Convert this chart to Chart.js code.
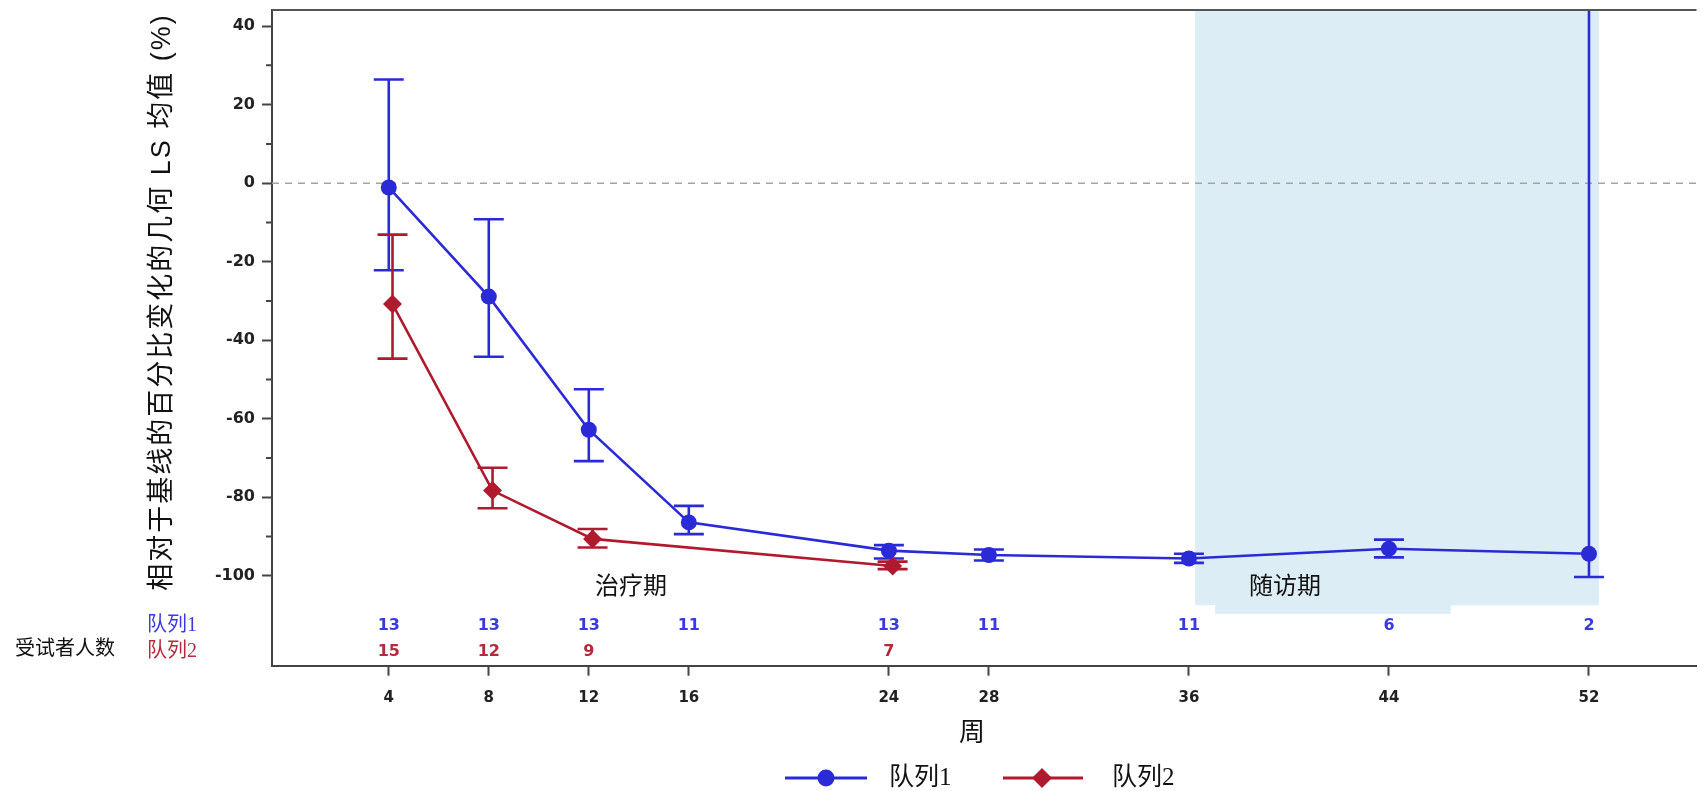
<!DOCTYPE html>
<html>
<head>
<meta charset="utf-8">
<script src="https://cdn.jsdelivr.net/npm/chart.js@4.4.0/dist/chart.umd.min.js"></script>
<style>
  html, body { margin: 0; padding: 0; background: #fff; }
  #wrap { position: relative; width: 1706px; height: 791px; }
</style>
</head>
<body>
<div id="wrap"><canvas id="chart"></canvas></div>
<script>
// tick labels
const weekTicks = [4, 8, 12, 16, 24, 28, 36, 44, 52];
const yTicks = [-100, -90, -80, -70, -60, -50, -40, -30, -20, -10, 0, 10, 20, 30, 40];

// cohort 1
const weeks1 = [4, 8, 12, 16, 24, 28, 36, 44, 52];
const mean1 = [-1.1, -28.9, -62.8, -86.4, -93.6, -94.7, -95.6, -93.1, -94.4];
const lower1 = [-22.2, -44.2, -70.8, -89.4, -95.6, -96.1, -96.7, -95.3, -100.3];
const upper1 = [26.4, -9.2, -52.5, -82.2, -92.2, -93.3, -94.4, -90.8, 150];
const count1 = [13, 13, 13, 11, 13, 11, 11, 6, 2];

// cohort 2
const weeks2 = [4, 8, 12, 24];
const mean2 = [-30.8, -78.3, -90.6, -97.5];
const lower2 = [-44.7, -82.8, -92.8, -98.3];
const upper2 = [-13.1, -72.5, -88.1, -96.4];
const count2 = [15, 12, 9, 7];

const seriesNames = ['队列1', '队列2'];

// follow-up period shading (weeks / y value)
const followUpStart = 36.25;
const followUpEnd = 52.4;
const followUpBottom = -107.5;

const BLUE = '#2a2ad6';
const RED = '#b01a2f';
const cluster = 0.15; // cohort 2 drawn slightly right of the tick

function toPoints(weeks, values, shift) {
  return weeks.map((w, i) => ({ x: w + shift, y: values[i] }));
}

const isMajor = (v) => v % 20 === 0;

// shaded band + dashed reference line at 0
const backdrop = {
  id: 'backdrop',
  beforeDatasetsDraw(chart) {
    const { ctx, chartArea: area, scales: { x, y } } = chart;
    ctx.save();
    ctx.fillStyle = '#ddedf5';
    const left = x.getPixelForValue(followUpStart);
    const right = x.getPixelForValue(followUpEnd);
    const bottom = y.getPixelForValue(followUpBottom);
    ctx.fillRect(left, area.top, right - left, bottom - area.top);
    // the label sits on a slightly deeper patch of the band
    const l2 = x.getPixelForValue(37.05), r2 = x.getPixelForValue(46.47);
    ctx.fillRect(l2, bottom - 1, r2 - l2, y.getPixelForValue(-109.7) - bottom + 1);

    const y0 = y.getPixelForValue(0);
    ctx.strokeStyle = '#a3a3a3';
    ctx.lineWidth = 1.5;
    ctx.setLineDash([7, 6]);
    ctx.beginPath();
    ctx.moveTo(area.left, y0);
    ctx.lineTo(area.right, y0);
    ctx.stroke();
    ctx.restore();
  }
};

// error bars from each dataset's errLow / errHigh
const errorBars = {
  id: 'errorBars',
  beforeDatasetsDraw(chart) {
    const { ctx, chartArea: area, scales: { y } } = chart;
    ctx.save();
    ctx.beginPath();
    ctx.rect(area.left, area.top, area.right - area.left, area.bottom - area.top);
    ctx.clip();
    chart.data.datasets.forEach((ds, i) => {
      const meta = chart.getDatasetMeta(i);
      ctx.strokeStyle = ds.borderColor;
      ctx.lineWidth = 2.6;
      meta.data.forEach((pt, j) => {
        const yl = y.getPixelForValue(ds.errLow[j]);
        const yh = y.getPixelForValue(ds.errHigh[j]);
        ctx.beginPath();
        ctx.moveTo(pt.x, yl);
        ctx.lineTo(pt.x, yh);
        ctx.moveTo(pt.x - 15, yl);
        ctx.lineTo(pt.x + 15, yl);
        ctx.moveTo(pt.x - 15, yh);
        ctx.lineTo(pt.x + 15, yh);
        ctx.stroke();
      });
    });
    ctx.restore();
  }
};

const CJK = '"Noto Sans CJK SC"';

// text around the plot: counts, period labels, titles, legend
const annotations = {
  id: 'annotations',
  afterDraw(chart) {
    const { ctx, chartArea: area, scales: { x, y } } = chart;
    ctx.save();

    // top frame line
    ctx.strokeStyle = '#555';
    ctx.lineWidth = 2;
    ctx.beginPath();
    ctx.moveTo(area.left, area.top);
    ctx.lineTo(area.right, area.top);
    ctx.stroke();

    // short minor ticks on the y axis
    ctx.strokeStyle = '#444';
    ctx.beginPath();
    yTicks.filter((v) => !isMajor(v)).forEach((v) => {
      const py = y.getPixelForValue(v);
      ctx.moveTo(area.left - 6, py);
      ctx.lineTo(area.left, py);
    });
    ctx.stroke();

    ctx.textAlign = 'center';
    ctx.textBaseline = 'middle';

    // subjects per visit
    ctx.font = '600 16px "DejaVu Sans"';
    ctx.fillStyle = '#3a3ae0';
    weeks1.forEach((w, i) => ctx.fillText(String(count1[i]), x.getPixelForValue(w), area.bottom - 40));
    ctx.fillStyle = '#b42a3d';
    weeks2.forEach((w, i) => ctx.fillText(String(count2[i]), x.getPixelForValue(w), area.bottom - 14));

    ctx.font = '20px "Liberation Serif", ' + CJK;
    ctx.fillStyle = '#3a3ae0';
    ctx.fillText(seriesNames[0], 172, area.bottom - 40);
    ctx.fillStyle = '#b42a3d';
    ctx.fillText(seriesNames[1], 172, area.bottom - 14);
    ctx.fillStyle = '#111';
    ctx.fillText('受试者人数', 65, area.bottom - 16);

    // period labels
    ctx.font = '24px "Liberation Serif", ' + CJK;
    ctx.fillText('治疗期', 631, y.getPixelForValue(-103.1));
    ctx.fillText('随访期', 1285, y.getPixelForValue(-103.1));

    // axis titles
    ctx.font = '26px "Liberation Serif", ' + CJK;
    ctx.fillText('周', 972, 734);
    ctx.save();
    ctx.translate(163, 302);
    ctx.rotate(-Math.PI / 2);
    ctx.font = '27px "Liberation Sans", ' + CJK;
    ctx.letterSpacing = '2px';
    ctx.fillText('相对于基线的百分比变化的几何 LS 均值 (%)', 0, 0);
    ctx.letterSpacing = '0px';
    ctx.restore();

    // legend
    const ly = 778;
    ctx.lineWidth = 3;
    ctx.strokeStyle = BLUE;
    ctx.beginPath(); ctx.moveTo(785, ly); ctx.lineTo(867, ly); ctx.stroke();
    ctx.fillStyle = BLUE;
    ctx.beginPath(); ctx.arc(826, ly, 8.5, 0, Math.PI * 2); ctx.fill();
    ctx.strokeStyle = RED;
    ctx.beginPath(); ctx.moveTo(1003, ly); ctx.lineTo(1083, ly); ctx.stroke();
    ctx.fillStyle = RED;
    ctx.beginPath();
    ctx.moveTo(1042, ly - 10); ctx.lineTo(1052, ly); ctx.lineTo(1042, ly + 10); ctx.lineTo(1032, ly);
    ctx.closePath(); ctx.fill();
    ctx.fillStyle = '#111';
    ctx.textAlign = 'left';
    ctx.font = '25px "Liberation Serif", ' + CJK;
    ctx.fillText(seriesNames[0], 889, ly);
    ctx.fillText(seriesNames[1], 1112, ly);

    ctx.restore();
  }
};

const ctx = document.getElementById('chart').getContext('2d');
new Chart(ctx, {
  type: 'line',
  data: {
    datasets: [
      {
        label: seriesNames[0],
        data: toPoints(weeks1, mean1, 0),
        errLow: lower1,
        errHigh: upper1,
        borderColor: BLUE,
        backgroundColor: BLUE,
        borderWidth: 2.6,
        pointStyle: 'circle',
        pointRadius: 8,
        pointBorderWidth: 0,
        tension: 0
      },
      {
        label: seriesNames[1],
        data: toPoints(weeks2, mean2, cluster),
        errLow: lower2,
        errHigh: upper2,
        borderColor: RED,
        backgroundColor: RED,
        borderWidth: 2.6,
        pointStyle: 'rectRot',
        pointRadius: 9.5,
        pointBorderWidth: 0,
        tension: 0
      }
    ]
  },
  options: {
    responsive: true,
    maintainAspectRatio: false,
    animation: false,
    layout: { padding: { left: 0, right: 0, top: 10, bottom: 0 } },
    plugins: {
      legend: { display: false },
      tooltip: { enabled: false }
    },
    scales: {
      x: {
        type: 'linear',
        min: -0.67,
        max: 56.3,
        afterBuildTicks: (scale) => { scale.ticks = weekTicks.map((v) => ({ value: v })); },
        afterFit: (scale) => { scale.height = 125.3; scale.paddingLeft = 0; scale.paddingRight = 0; },
        grid: { drawOnChartArea: false, tickLength: 10, tickColor: '#444', tickWidth: 2 },
        border: { color: '#444', width: 2 },
        ticks: {
          padding: 13,
          color: '#222',
          maxRotation: 0,
          autoSkip: false,
          font: { family: 'DejaVu Sans', weight: 'bold', size: 15 }
        }
      },
      y: {
        min: -122.9,
        max: 44.1,
        afterBuildTicks: (scale) => { scale.ticks = yTicks.map((v) => ({ value: v })); },
        afterFit: (scale) => { scale.width = 272; scale.paddingTop = 0; scale.paddingBottom = 0; },
        grid: {
          drawOnChartArea: false,
          tickLength: 10,
          tickWidth: 2,
          tickColor: (c) => (c.tick && isMajor(c.tick.value) ? '#444' : 'rgba(0,0,0,0)')
        },
        border: { color: '#444', width: 2 },
        ticks: {
          padding: 7,
          color: '#222',
          autoSkip: false,
          font: { family: 'DejaVu Sans', weight: 'bold', size: 16 },
          callback: (v) => (isMajor(v) ? String(v) : '')
        }
      }
    }
  },
  plugins: [backdrop, errorBars, annotations]
});
</script>
</body>
</html>
